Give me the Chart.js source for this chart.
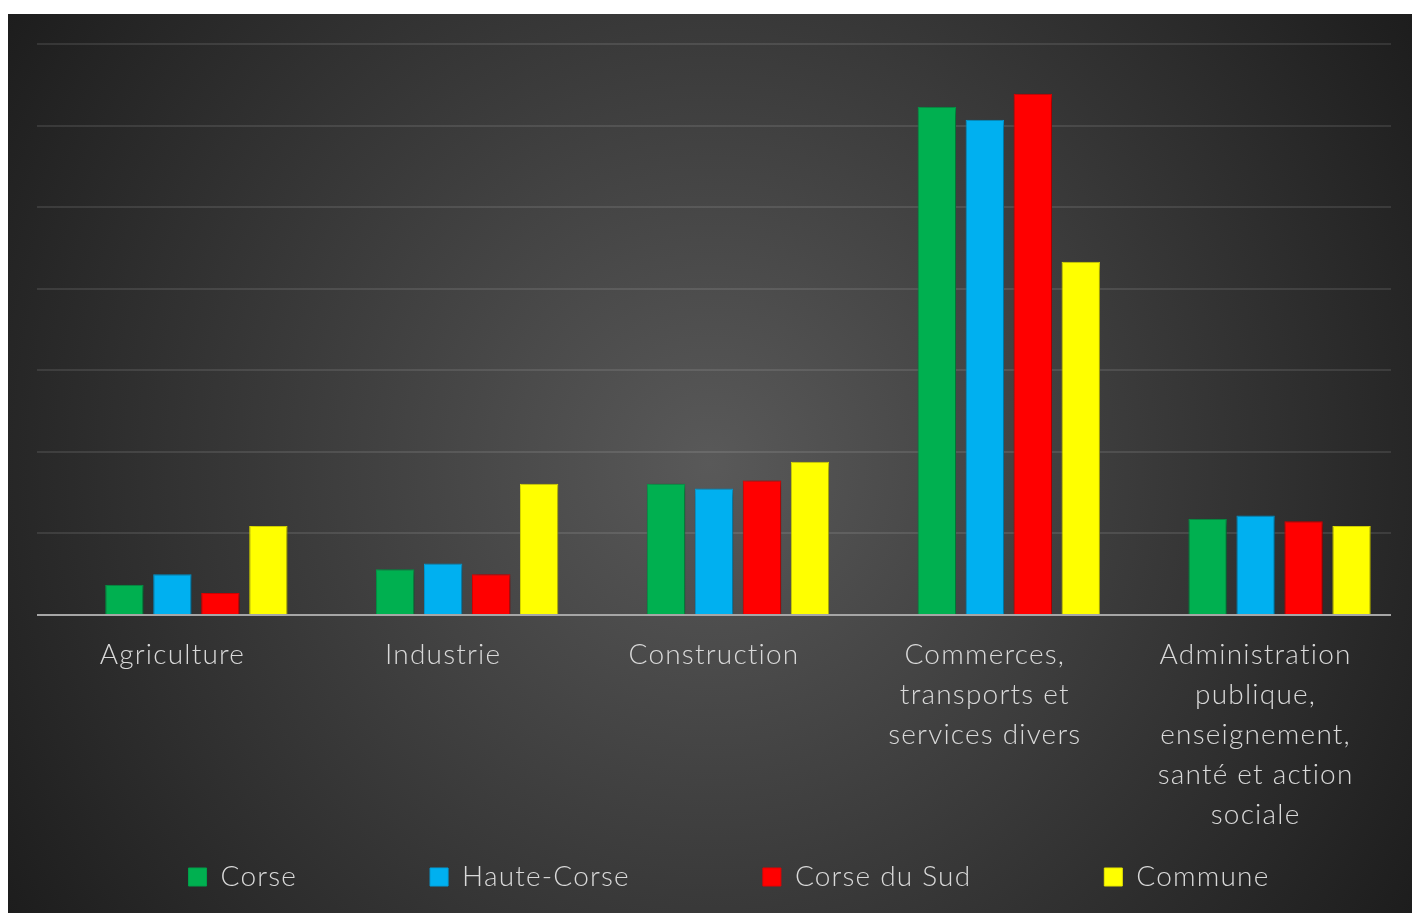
<!DOCTYPE html>
<html>
<head>
<meta charset="utf-8">
<script src="https://cdn.jsdelivr.net/npm/chart.js@4"></script>
<style>
  html, body { margin: 0; padding: 0; background: #ffffff; }
  #wrap { position: absolute; left: 8px; top: 14px; width: 1404px; height: 899px; }
  canvas { display: block; }
</style>
</head>
<body>
<div id="wrap"><canvas id="c" width="1404" height="899"></canvas></div>
<script>
const categories = [
  "Agriculture",
  "Industrie",
  "Construction",
  ["Commerces,", "transports et", "services divers"],
  ["Administration", "publique,", "enseignement,", "santé et action", "sociale"]
];
const seriesNames = ["Corse", "Haute-Corse", "Corse du Sud", "Commune"];
const emptySeries = [null, null, null, null, null];
const corse       = [3.7, 5.6, 16.1, 62.3, 11.8];
const hauteCorse  = [5.0, 6.3, 15.5, 60.7, 12.2];
const corseDuSud  = [2.7, 5.0, 16.5, 63.9, 11.5];
const commune     = [10.9, 16.1, 18.8, 43.3, 10.9];
const seriesColors = ["#00b050", "#00b0f0", "#ff0000", "#ffff00"];
const seriesBorders = ["#00a04a", "#00a0dc", "#e60000", "#e6e600"];
const yMin = 0, yMax = 70, yStep = 10;

const bgPlugin = {
  id: 'bg',
  beforeDraw(chart) {
    const { ctx, width, height } = chart;
    const cx = width / 2, cy = height / 2;
    const r = Math.sqrt(cx * cx + cy * cy);
    const g = ctx.createRadialGradient(cx, cy, 0, cx, cy, r);
    g.addColorStop(0, '#595959');
    g.addColorStop(1, '#1d1d1d');
    ctx.save();
    ctx.fillStyle = g;
    ctx.fillRect(0, 0, width, height);
    ctx.restore();
  }
};

const spacingPlugin = {
  id: 'spacing',
  beforeLayout(chart) { chart.ctx.letterSpacing = '1.2px'; },
  beforeDraw(chart) { chart.ctx.letterSpacing = '1.2px'; }
};

const shadowPlugin = {
  id: 'barShadow',
  beforeDatasetsDraw(chart) {
    const ctx = chart.ctx;
    ctx.save();
    ctx.shadowColor = 'rgba(0,0,0,0.45)';
    ctx.shadowBlur = 7;
    ctx.shadowOffsetX = 2;
    ctx.shadowOffsetY = 2;
  },
  afterDatasetsDraw(chart) {
    chart.ctx.restore();
  }
};

// keep the legend on one row and place it (Chart.js draws it at top + padding)
const legendPlace = {
  id: 'legendPlace',
  beforeLayout(chart) {
    const lg = chart.legend;
    if (!lg || lg._oneRow) return;
    const origFit = lg.fit;
    lg.fit = function () {
      const mw = this.maxWidth;
      this.maxWidth = mw + 400;
      origFit.call(this);
      this.maxWidth = mw;
      this.width = Math.min(this.width, mw);
    };
    lg._oneRow = true;
  },
  afterLayout(chart) {
    const lg = chart.legend;
    if (!lg) return;
    const pad = chart.options.plugins.legend.labels.padding;
    const itemH = 28;
    const centerY = 863;
    lg.top = centerY - itemH / 2 - pad;
    lg.left += 15;
    lg.right += 15;
  }
};

const datasets = [emptySeries, corse, hauteCorse, corseDuSud, commune].map((d, i) => ({
  label: i === 0 ? '' : seriesNames[i - 1],
  data: d,
  backgroundColor: i === 0 ? 'rgba(0,0,0,0)' : seriesColors[i - 1],
  borderColor: i === 0 ? 'rgba(0,0,0,0)' : seriesBorders[i - 1],
  borderWidth: 1,
  barPercentage: 0.8,
  categoryPercentage: 0.886
}));

Chart.defaults.font.family = "Lato, 'Open Sans', sans-serif";

new Chart(document.getElementById('c'), {
  type: 'bar',
  data: { labels: categories, datasets },
  plugins: [bgPlugin, spacingPlugin, shadowPlugin, legendPlace],
  options: {
    responsive: false,
    devicePixelRatio: 1,
    animation: false,
    layout: { padding: { left: 29, right: 21, top: 30, bottom: 18 } },
    scales: {
      x: {
        grid: { display: false, drawTicks: false },
        border: { display: false },
        ticks: {
          color: '#d9d9d9',
          padding: 20,
          maxRotation: 0,
          autoSkip: false,
          font: { size: 28, weight: '300', lineHeight: 40 / 28 }
        }
      },
      y: {
        min: yMin, max: yMax,
        ticks: { display: false, stepSize: yStep },
        border: { display: false },
        grid: {
          drawTicks: false,
          color: c => c.tick && c.tick.value === 0 ? '#a6a6a6' : 'rgba(255,255,255,0.1)',
          lineWidth: 2
        }
      }
    },
    plugins: {
      tooltip: { enabled: false },
      legend: {
        position: 'bottom',
        maxHeight: 40,
        labels: {
          color: '#d9d9d9',
          boxWidth: 18,
          boxHeight: 18,
          padding: 133,
          font: { size: 28, weight: '300' },
          filter: item => item.datasetIndex !== 0
        }
      }
    }
  }
});
</script>
</body>
</html>
